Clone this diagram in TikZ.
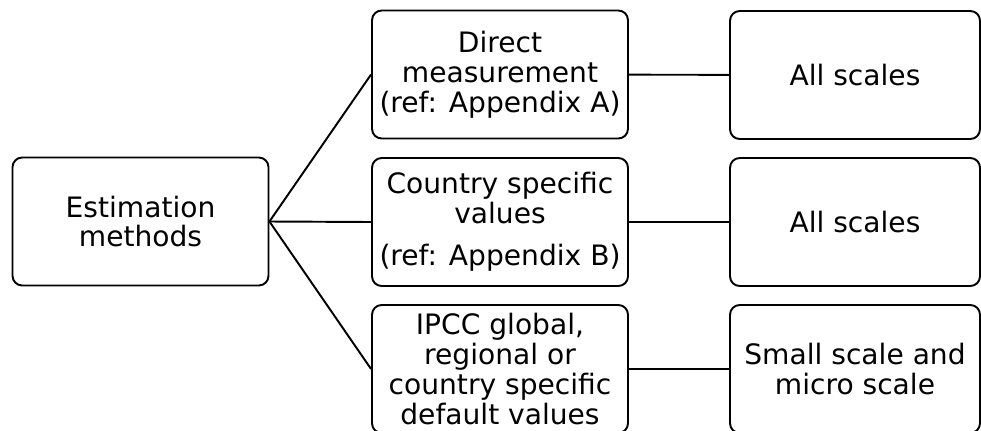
\documentclass[tikz,border=0pt]{standalone}
\usepackage{fontspec}
\setmainfont{DejaVu Sans}
\usepackage{tikz}
\usetikzlibrary{positioning}

\begin{document}
\begin{tikzpicture}[x=0.02cm, y=-0.02cm, line width=1.1pt,
        box/.style={draw, rounded corners=5.5pt, align=center, inner sep=0pt,
            minimum width=5.12cm, minimum height=2.56cm,
            font=\fontsize{16}{17}\selectfont},
        scalebox/.style={box, minimum width=5.0cm}]
        \useasboundingbox (0,0) rectangle (981,430);
        \node[box] (est) at (140.5,221.5) {Estimation\\methods};
        \node[box] (direct) at (500,74.5) {Direct\\measurement\\(ref: Appendix A)};
        \node[box] (country) at (500,222) {Country specific\\values\\[7pt](ref: Appendix B)};
        \node[box] (ipcc) at (500,369) {IPCC global,\\regional or\\country specific\\default values};
        \node[scalebox] (allA) at (855,75) {All scales};
        \node[scalebox] (allB) at (855,222) {All scales};
        \node[scalebox] (small) at (855,369) {Small scale and\\micro scale};
        \draw (est.east) -- (direct.west);
        \draw (est.east) -- (country.west);
        \draw (est.east) -- (ipcc.west);
        \draw (direct) -- (allA);
        \draw (country) -- (allB);
        \draw (ipcc) -- (small);
    \end{tikzpicture}
\end{document}
